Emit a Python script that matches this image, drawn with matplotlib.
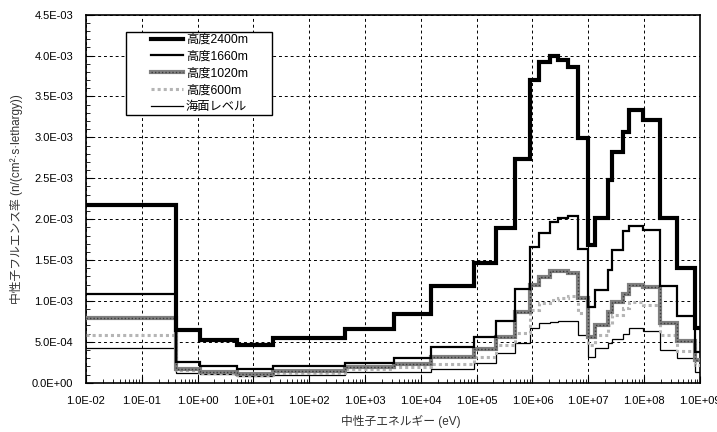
import numpy as np
import matplotlib
matplotlib.use("Agg")
import matplotlib.pyplot as plt
from matplotlib.patches import Rectangle
from matplotlib.legend_handler import HandlerTuple
from matplotlib.ticker import FuncFormatter, LogLocator, MultipleLocator, NullFormatter

plt.rcParams['font.family'] = ['Liberation Sans', 'Noto Sans CJK JP', 'DejaVu Sans']

# energy group boundaries (eV)
edges = [1e-2, 0.414, 1.1, 5.0, 22, 440, 3.3e3, 1.5e4, 9.0e4, 2.2e5, 4.9e5,
         9.0e5, 1.3e6, 2.1e6, 2.9e6, 4.3e6, 6.6e6, 1.0e7, 1.3e7, 2.3e7, 2.7e7,
         4.2e7, 5.4e7, 9.6e7, 1.95e8, 3.9e8, 8.2e8, 1.0e9]

# fluence rate per lethargy, one value per group
flux_2400 = [2.17e-3, 6.44e-4, 5.22e-4, 4.57e-4, 5.52e-4, 6.56e-4, 8.4e-4, 1.18e-3,
             1.46e-3, 1.89e-3, 2.73e-3, 3.70e-3, 3.92e-3, 4.00e-3, 3.95e-3, 3.86e-3,
             2.99e-3, 1.68e-3, 2.01e-3, 2.48e-3, 2.82e-3, 3.07e-3, 3.33e-3, 3.21e-3,
             2.01e-3, 1.40e-3, 6.7e-4]
flux_1660 = [1.09e-3, 2.57e-4, 2.04e-4, 1.67e-4, 2.02e-4, 2.37e-4, 3.06e-4, 4.4e-4,
             5.55e-4, 7.54e-4, 1.15e-3, 1.66e-3, 1.83e-3, 1.96e-3, 2.01e-3, 2.04e-3,
             1.63e-3, 9.3e-4, 1.13e-3, 1.38e-3, 1.62e-3, 1.85e-3, 1.92e-3, 1.87e-3,
             1.18e-3, 8.1e-4, 3.8e-4]
flux_1020 = [7.87e-4, 1.70e-4, 1.35e-4, 1.06e-4, 1.39e-4, 1.90e-4, 2.3e-4, 3.15e-4,
             4.08e-4, 5.62e-4, 8.68e-4, 1.19e-3, 1.29e-3, 1.36e-3, 1.36e-3, 1.34e-3,
             1.03e-3, 5.6e-4, 7.0e-4, 8.7e-4, 9.9e-4, 1.09e-3, 1.19e-3, 1.17e-3,
             7.26e-4, 5.1e-4, 2.8e-4]
flux_600 = [5.83e-4, 1.50e-4, 1.22e-4, 9.4e-5, 1.20e-4, 1.64e-4, 1.9e-4, 2.27e-4,
            3.1e-4, 4.6e-4, 6.1e-4, 8.9e-4, 9.7e-4, 1.01e-3, 1.04e-3, 1.06e-3,
            8.5e-4, 4.6e-4, 5.8e-4, 7.1e-4, 8.3e-4, 9.1e-4, 9.9e-4, 9.5e-4,
            5.8e-4, 3.9e-4, 2.2e-4]
flux_sea = [4.2e-4, 1.18e-4, 1.03e-4, 8.2e-5, 1.0e-4, 1.26e-4, 1.3e-4, 1.64e-4,
            2.4e-4, 3.6e-4, 4.8e-4, 6.65e-4, 7.26e-4, 7.46e-4, 7.5e-4, 7.6e-4,
            5.8e-4, 3.2e-4, 4.2e-4, 4.8e-4, 5.4e-4, 6.0e-4, 6.65e-4, 6.3e-4,
            4.0e-4, 3.0e-4, 1.3e-4]

labels = ['高度2400m', '高度1660m', '高度1020m', '高度600m', '海面レベル']

fig = plt.figure(figsize=(7.17, 4.32), dpi=100)
ax = fig.add_axes([0.1199, 0.1141, 0.8563, 0.8519])

h1 = ax.stairs(flux_2400, edges, baseline=None, color='black', lw=3.0, zorder=6)
h2 = ax.stairs(flux_1660, edges, baseline=None, color='black', lw=1.6, zorder=5)
h3a = ax.stairs(flux_1020, edges, baseline=None, color='#808080', lw=3.0, zorder=4)
h3b = ax.stairs(flux_1020, edges, baseline=None, color='#3c3c3c', lw=1.0, ls=(0, (1, 1.5)), zorder=4.1)
h4 = ax.stairs(flux_600, edges, baseline=None, color='#b5b5b5', lw=2.2, ls=(0, (1, 1)), zorder=3)
h5 = ax.stairs(flux_sea, edges, baseline=None, color='black', lw=0.9, zorder=2)

ax.set_xscale('log')
ax.set_xlim(1e-2, 1e9)
ax.set_ylim(0, 4.5e-3)

ax.xaxis.set_major_locator(LogLocator(base=10, numticks=20))
ax.xaxis.set_minor_locator(LogLocator(base=10, subs=np.arange(2, 10), numticks=20))
ax.xaxis.set_minor_formatter(NullFormatter())
ax.yaxis.set_major_locator(MultipleLocator(5e-4))
ax.yaxis.set_minor_locator(MultipleLocator(1e-4))

def sci_fmt(v, pos):
    if v == 0:
        return '0.0E+00'
    return '%.1E' % v

ax.xaxis.set_major_formatter(FuncFormatter(sci_fmt))
ax.yaxis.set_major_formatter(FuncFormatter(sci_fmt))

ax.tick_params(which='both', direction='in', labelsize=8, colors='black')
ax.tick_params(which='major', length=5)
ax.tick_params(which='minor', length=3)
ax.tick_params(axis='x', which='major', pad=9.5)
ax.tick_params(axis='y', which='major', pad=9)

ax.grid(True, which='major', color='black', ls=(0, (3, 3)), lw=0.7)
for s in ax.spines.values():
    s.set_linewidth(1.2)
    s.set_color('black')

ax.set_xlabel('中性子エネルギー (eV)', fontsize=8.5, color='#333333')
ax.xaxis.set_label_coords(0.513, -0.088)
ax.set_ylabel('中性子フルエンス率 (n/(cm²·s·lethargy))', fontsize=8.5, color='#333333')
ax.yaxis.set_label_coords(-0.1026, 0.5)

# legend frame drawn by hand so that the wide side padding matches
ax.add_patch(Rectangle((0.0651, 0.7274), 0.2378, 0.2256, transform=ax.transAxes,
                       facecolor='white', edgecolor='black', lw=1.0, zorder=9))
leg = ax.legend([h1, h2, (h3a, h3b), h4, h5], labels, loc='upper left',
                bbox_to_anchor=(0.106, 0.948), fontsize=8.8, frameon=False,
                handlelength=2.6, handletextpad=0.25, borderpad=0, borderaxespad=0,
                labelspacing=0.4, handler_map={tuple: HandlerTuple(ndivide=1, pad=0)})
leg.set_zorder(10)

fig.savefig('out.png', dpi=100)
